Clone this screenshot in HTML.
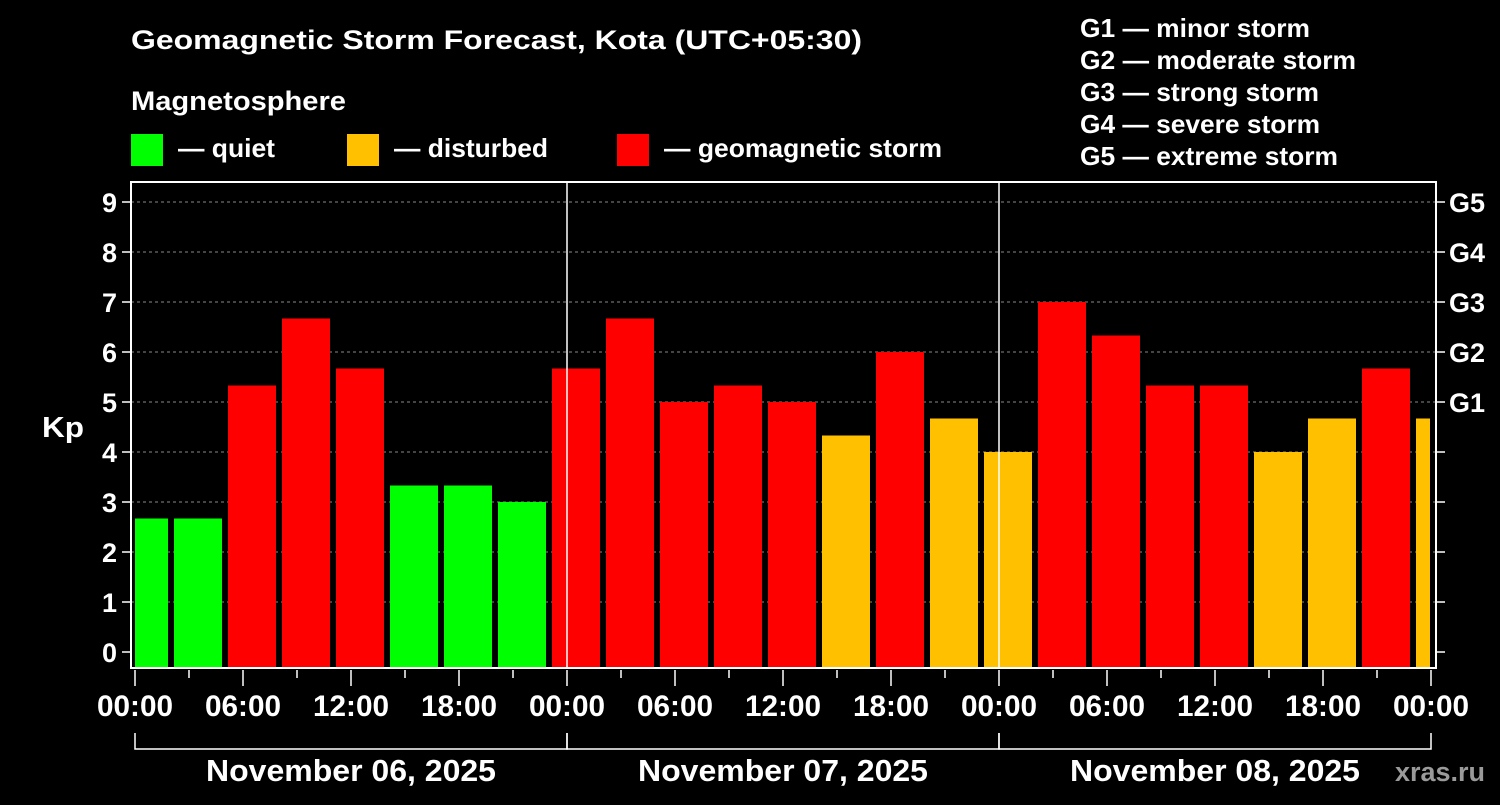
<!DOCTYPE html>
<html><head><meta charset="utf-8"><style>
body{margin:0;background:#000;width:1500px;height:800px;overflow:hidden;font-family:"Liberation Sans",sans-serif;}
svg text{font-family:"Liberation Sans",sans-serif;font-weight:bold;fill:#fff;}
</style></head><body>
<svg id="chart" width="1500" height="800" viewBox="0 0 1500 800" xmlns="http://www.w3.org/2000/svg">
<rect width="1500" height="800" fill="#000"/>
<text x="131" y="49" font-size="27" textLength="731" lengthAdjust="spacingAndGlyphs">Geomagnetic Storm Forecast, Kota (UTC+05:30)</text>
<text x="131" y="110" font-size="27" textLength="215" lengthAdjust="spacingAndGlyphs">Magnetosphere</text>
<g>
<rect x="131" y="134" width="32" height="32" fill="#00ff00"/>
<text x="178" y="157" font-size="26" textLength="97" lengthAdjust="spacingAndGlyphs">— quiet</text>
<rect x="347" y="134" width="32" height="32" fill="#ffc000"/>
<text x="394" y="157" font-size="26" textLength="154" lengthAdjust="spacingAndGlyphs">— disturbed</text>
<rect x="617" y="134" width="32" height="32" fill="#ff0000"/>
<text x="664" y="157" font-size="26" textLength="278" lengthAdjust="spacingAndGlyphs">— geomagnetic storm</text>
</g>
<g font-size="26">
<text x="1080" y="37" textLength="230" lengthAdjust="spacingAndGlyphs">G1 — minor storm</text>
<text x="1080" y="69" textLength="276" lengthAdjust="spacingAndGlyphs">G2 — moderate storm</text>
<text x="1080" y="101" textLength="239" lengthAdjust="spacingAndGlyphs">G3 — strong storm</text>
<text x="1080" y="133" textLength="240" lengthAdjust="spacingAndGlyphs">G4 — severe storm</text>
<text x="1080" y="165" textLength="258" lengthAdjust="spacingAndGlyphs">G5 — extreme storm</text>
</g>
<text x="42" y="437" font-size="29" textLength="42" lengthAdjust="spacingAndGlyphs">Kp</text>
<g id="grid"></g><g id="bars"></g><g id="axes"></g>
<text x="1485" y="781" font-size="27" text-anchor="end" style="fill:#9a9a9a">xras.ru</text>
</svg>
<script>
const kpValues=[2.67,2.67,5.33,6.67,5.67,3.33,3.33,3.0,5.67,6.67,5.0,5.33,5.0,4.33,6.0,4.67,4.0,7.0,6.33,5.33,5.33,4.0,4.67,5.67,4.67];
const yTicks=[0,1,2,3,4,5,6,7,8,9];
const gLabels=["","","","","","G1","G2","G3","G4","G5"];
const xLabels=["00:00","06:00","12:00","18:00","00:00","06:00","12:00","18:00","00:00","06:00","12:00","18:00","00:00"];
const dayLabels=["November 06, 2025","November 07, 2025","November 08, 2025"];
const NS="http://www.w3.org/2000/svg";
const X0=135,PXH=18,L=131,R=1436,T=182,B=668;
const x=h=>X0+h*PXH;
const y=v=>652-50*v;
function mk(tag,attrs,parent,txt){const e=document.createElementNS(NS,tag);for(const k in attrs)e.setAttribute(k,attrs[k]);if(txt!==undefined)e.textContent=txt;parent.appendChild(e);return e;}
const grid=document.getElementById('grid'),bars=document.getElementById('bars'),axes=document.getElementById('axes');
yTicks.forEach((t,i)=>{
 if(t>0){const g=mk('line',{x1:L,x2:R,y1:y(t),y2:y(t),stroke:'#888','stroke-dasharray':'3,3','stroke-width':1},grid);
 
 }
 mk('line',{x1:L-9,x2:L,y1:y(t),y2:y(t),stroke:'#fff','stroke-width':1.5},axes);
 mk('line',{x1:R,x2:R+9,y1:y(t),y2:y(t),stroke:'#fff','stroke-width':1.5},axes);
 const lt=mk('text',{x:L-14,y:y(t)+10,'font-size':27,'text-anchor':'end'},axes,String(t));
 
 
 if(gLabels[i]){const gt=mk('text',{x:R+13,y:y(t)+10,'font-size':27},axes,gLabels[i]);
 
 }
});
const clip=mk('clipPath',{id:'pc'},document.getElementById('chart'));
mk('rect',{x:X0,y:T,width:R-X0-6,height:B-T},clip);
bars.setAttribute('clip-path','url(#pc)');
kpValues.forEach((v,i)=>{
 const h0=2.5+3*(i-1)-0.5;
 const col=v<4?'#00ff00':(v<5?'#ffc000':'#ff0000');
 const r=mk('rect',{x:x(h0+0.1667),y:y(v),width:48,height:B-y(v),fill:col},bars);
 
 
});
[1,2].forEach(d=>mk('line',{x1:x(24*d),x2:x(24*d),y1:T,y2:B,stroke:'#fff','stroke-width':1.5},axes));
mk('rect',{x:L,y:T,width:R-L,height:B-T,fill:'none',stroke:'#fff','stroke-width':2},axes);
for(let h=0;h<=72;h+=3){mk('line',{x1:x(h),x2:x(h),y1:B+2,y2:B+(h%6==0?18:10),stroke:'#fff','stroke-width':1.5},axes);}
xLabels.forEach((s,i)=>{const t=mk('text',{x:x(6*i),y:716,'font-size':30,'text-anchor':'middle',textLength:76,lengthAdjust:'spacingAndGlyphs'},axes,s);
 
 });
dayLabels.forEach((s,d)=>{
 mk('path',{d:`M${x(24*d)} 733V749H${x(24*d+24)}V733`,fill:'none',stroke:'#fff','stroke-width':1.5},axes);
 const t=mk('text',{x:x(24*d+12),y:781,'font-size':31,'text-anchor':'middle',textLength:290,lengthAdjust:'spacingAndGlyphs'},axes,s);
 
 
});
</script>
</body></html>
